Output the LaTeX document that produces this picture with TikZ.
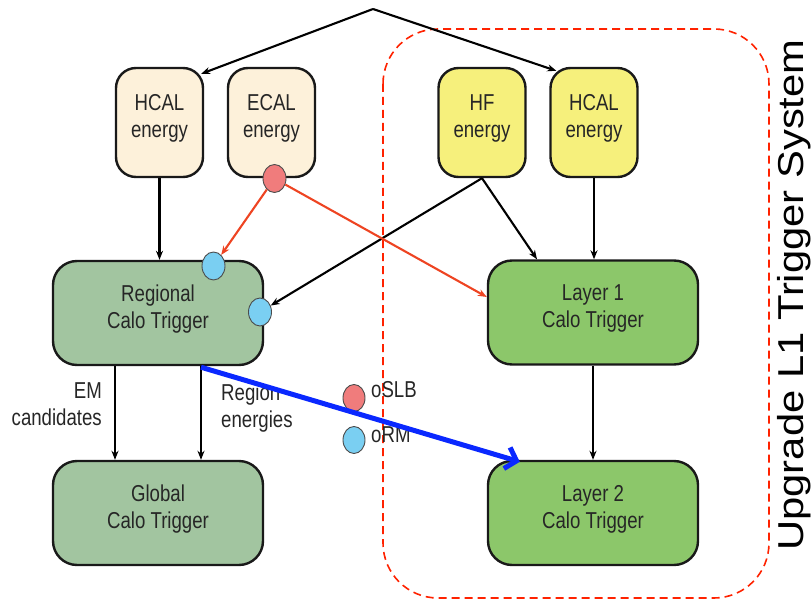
\documentclass[tikz,border=0pt]{standalone}
\usepackage{fontspec}
\setmainfont{Liberation Sans}
\newfontfamily\narrowsans[FakeStretch=0.81]{Liberation Sans}
\newfontfamily\widesans[FakeStretch=1.16]{Liberation Sans}
\usetikzlibrary{arrows.meta,shapes.geometric,calc}
\definecolor{beigefill}{HTML}{FDF1DA}
\definecolor{yellowfill}{HTML}{F6F07C}
\definecolor{regfill}{HTML}{A2C5A0}
\definecolor{layfill}{HTML}{8CC76A}
\definecolor{dotred}{HTML}{F07C7C}
\definecolor{dotblue}{HTML}{7ACFF2}
\definecolor{redline}{HTML}{EE4422}
\definecolor{frame}{HTML}{FF2200}
\definecolor{bigblue}{HTML}{0A28FF}
\newcommand{\boxfont}{\fontsize{23}{27}\selectfont\narrowsans}
\newcommand{\titlefont}{\fontsize{36}{40}\selectfont\widesans}
\tikzset{
  box/.style={draw=black!90, line width=2.4pt, align=center, font=\boxfont, text=black!85, text depth=13pt, inner sep=0pt},
  srcbox/.style={box, rounded corners=20pt, minimum width=87pt, minimum height=109pt},
  bigbox/.style={box, rounded corners=24pt, minimum width=210pt, minimum height=104pt},
  dot/.style={ellipse, draw=black!70, line width=0.9pt, minimum width=23pt, minimum height=28pt, inner sep=0pt},
  arr/.style={-{Stealth[length=9pt,width=7pt]}, line width=2.1pt},
  redarr/.style={arr, draw=redline},
  bluearr/.style={-{Straight Barb[length=10pt,width=22pt]}, line width=5pt, draw=bigblue},
  lbl/.style={font=\boxfont, text=black!85, inner sep=0pt}
}
\begin{document}
\begin{tikzpicture}[x=1pt,y=-1pt]
\useasboundingbox (0,0) rectangle (811,604);
% frame
\draw[frame, dash pattern=on 8pt off 5pt, line width=1.6pt, rounded corners=55pt] (383,29) rectangle (769,598);
% boxes
\node[srcbox, fill=beigefill] (hcalL) at (159.5,122.5) {HCAL\\energy};
\node[srcbox, fill=beigefill] (ecal) at (271.5,122.5) {ECAL\\energy};
\node[srcbox, fill=yellowfill] (hf) at (482,122.5) {HF\\energy};
\node[srcbox, fill=yellowfill] (hcalR) at (594,122.5) {HCAL\\energy};
\node[bigbox, fill=regfill] (reg) at (158,313) {Regional\\Calo Trigger};
\node[bigbox, fill=regfill] (glob) at (158,513) {Global\\Calo Trigger};
\node[bigbox, fill=layfill] (lay1) at (593,312.5) {Layer 1\\Calo Trigger};
\node[bigbox, fill=layfill] (lay2) at (593,513) {Layer 2\\Calo Trigger};
% dots
\node[dot, fill=dotred] (circR) at (274.5,178.5) {};
\node[dot, fill=dotblue] (circB1) at (213.5,266) {};
\node[dot, fill=dotblue] (circB2) at (260,312) {};
\node[dot, fill=dotred, minimum width=22pt, minimum height=27pt] (legR) at (354,398) {};
\node[dot, fill=dotblue, minimum width=22pt, minimum height=27pt] (legB) at (354,440) {};
% labels
\node[lbl, align=right, anchor=east] (em) at (102,404) {EM\\candidates};
\node[lbl, align=left, anchor=west] (regen) at (221,408) {Region\\energies};
\node[lbl, anchor=base west] (slb) at (371,397) {oSLB};
\node[lbl, anchor=base west] (rm) at (371,442) {oRM};
\node[rotate=90, anchor=base, font=\titlefont, inner sep=0pt] (title) at (803,295) {Upgrade L1 Trigger System};
% connectors
\coordinate (top) at (373,9);
\draw[arr] (top) -- ($(hcalL.north east)+(-3,7)$);
\draw[arr] (top) -- ($(hcalR.north west)+(7,4)$);
\draw[arr] (hcalL.south) -- (hcalL.south |- reg.north);
\draw[arr] (hf.south) -- (circB2);
\draw[arr] (hf.south) -- ($(lay1.north)+(-56,0)$);
\draw[arr] (hcalR.south) -- (hcalR.south |- lay1.north);
\draw[redarr] (circR) -- (circB1);
\draw[redarr] (circR) -- ($(lay1.west)+(0,-15.5)$);
\draw[arr] ($(reg.south)+(-43,0)$) -- ($(glob.north)+(-43,0)$);
\draw[arr, line width=1.5pt] ($(reg.south)+(43,0)$) -- ($(glob.north)+(43,0)$);
\draw[arr] (lay1.south) -- (lay2.north);
\draw[bluearr] ($(reg.south)+(43,1)$) -- ($(lay2.north west)+(33,2)$);
\end{tikzpicture}
\end{document}
